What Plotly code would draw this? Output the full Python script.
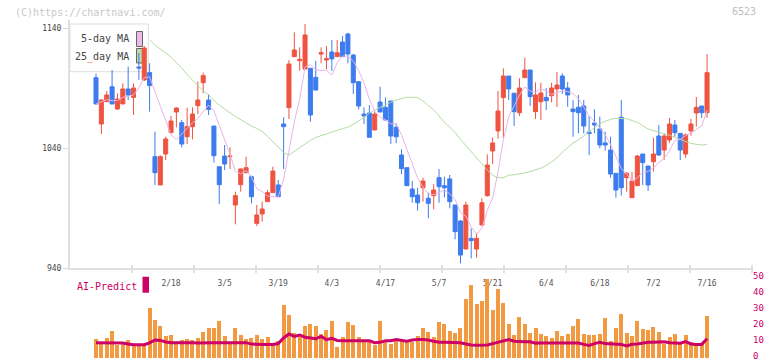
import plotly.graph_objects as go
import pandas as pd

# ---------------- data ----------------
date_labels = ["2/18", "3/5", "3/19", "4/3", "4/17", "5/7", "5/21", "6/4", "6/18", "7/2", "7/16"]
label_index = [14, 24, 34, 44, 54, 64, 74, 84, 94, 104, 114]

opens = [1098.6, 1060, 1078.6, 1091.1, 1072.5, 1076.7, 1089.2, 1082.2, 1107.5, 1096.7,
         1102.8, 1032.8, 1009.2, 1035, 1052.8, 1070, 1061.1, 1049.4, 1057.8, 1075.3,
         1094.4, 1080, 1058.3, 1024.4, 1033.3, 1032.8, 992.5, 1009.4, 1019.4, 1016.1,
         977.2, 985, 995.3, 1002.8, 1009.2, 1060, 1073.6, 1116.1, 1112.8, 1105.8,
         1106.4, 1098.9, 1118.3, 1113.3, 1120, 1116.1, 1128.3, 1135, 1117.5, 1095.3,
         1068.3, 1069.2, 1055, 1078.3, 1073.9, 1079.2, 1057.2, 1034.2, 1023.6, 1005.8,
         1000.8, 1006.9, 998.1, 1000.3, 1015.3, 1008.6, 1014.2, 992.5, 979.2, 955.8,
         964.7, 955.8, 975.8, 1000.3, 1037.5, 1054.2, 1082, 1100, 1085.6, 1069.4,
         1098.6, 1105, 1070.3, 1078.6, 1082.2, 1083.6, 1089.2, 1100, 1090, 1072.5,
         1073.9, 1075, 1053.3, 1060.8, 1055.8, 1044.2, 1038.3, 1018.9, 1065.6, 1015.3,
         998.6, 1008.6, 1035, 1025, 1028.6, 1050, 1038.3, 1046.7, 1059.2, 1052.2,
         1035, 1054.2, 1069.2, 1075, 1069.4]
highs = [1102, 1080.6, 1087.5, 1105, 1085.6, 1093.9, 1107.8, 1093.9, 1119.2, 1125,
         1110.6, 1053.6, 1034, 1049.4, 1066.7, 1073.9, 1063.3, 1073.6, 1073.9, 1095.3,
         1102.8, 1085, 1058.3, 1025, 1042.5, 1040.6, 1003.6, 1023, 1032.8, 1017,
         992.5, 995.3, 1005, 1024.4, 1013.3, 1065.6, 1113.3, 1136.4, 1123.9, 1143.3,
         1106.4, 1112.5, 1123.9, 1125, 1130, 1130, 1133.3, 1136, 1118.3, 1095.3,
         1073.9, 1075.8, 1070.3, 1091.1, 1082.2, 1079.2, 1060.6, 1038.9, 1023.6, 1012.5,
         1006.9, 1015.3, 1002.8, 1010, 1022.5, 1016.1, 1017.5, 992.5, 980, 995.3,
         973, 968.9, 998.1, 1034.7, 1048.6, 1087.5, 1106.4, 1100, 1085.6, 1098.1,
         1115.3, 1105, 1094.7, 1094.4, 1090, 1094.4, 1103.3, 1102.2, 1095, 1080,
         1084.2, 1080, 1066.7, 1072.2, 1066.1, 1053.6, 1049.4, 1018.9, 1080, 1020,
         1020, 1034.2, 1035, 1025, 1048.6, 1059.2, 1052.2, 1065, 1063.3, 1052.2,
         1052.2, 1064.2, 1082.5, 1075, 1118.3]
lows = [1076.7, 1051.7, 1078.6, 1076.7, 1071.7, 1076.7, 1080, 1067.5, 1096.7, 1095.8,
        1070.3, 1009.2, 1009.2, 1030, 1052.2, 1057.2, 1040.6, 1043.3, 1047.2, 1068.3,
        1085.6, 1067.5, 1027.8, 993.3, 1021.7, 1022.5, 976.4, 1003.6, 1019.4, 993.9,
        975, 978.6, 995.3, 1002.8, 999.4, 1022.5, 1064.2, 1116.1, 1104.4, 1105.8,
        1062, 1088.3, 1110.6, 1105.6, 1104.2, 1116.1, 1116.1, 1110.6, 1085, 1072.2,
        1060, 1048.9, 1055, 1070, 1063.3, 1043.3, 1043.9, 1018.3, 1008.6, 994.4,
        987.8, 995.3, 981.4, 988.9, 994.4, 998.9, 989.7, 963.9, 943.9, 955.8,
        948, 948.6, 975.8, 999.4, 1026.7, 1047.8, 1048.1, 1080, 1058.3, 1066.7,
        1098.6, 1075, 1064.2, 1063.3, 1071.7, 1078, 1074.2, 1085, 1074.4, 1049.4,
        1052.2, 1052.2, 1034.2, 1052.2, 1039.7, 1037.8, 1015.3, 998.6, 1000.3, 1003.6,
        998.6, 1008.6, 1009.2, 1004.2, 1020.3, 1033.3, 1030, 1044.4, 1049.4, 1030,
        1031.9, 1050.3, 1057.8, 1065, 1065]
closes = [1076.7, 1080, 1084.2, 1076.7, 1080.8, 1089.2, 1084.2, 1090, 1106.7, 1123.3,
          1092, 1019.4, 1032.8, 1047.5, 1062.5, 1073.3, 1043.3, 1057.8, 1068.3, 1080,
          1100.3, 1072.2, 1033.6, 1009.4, 1026.7, 1033.3, 1000.3, 1022.5, 1023.6, 999.4,
          984.2, 989.2, 1002.8, 1020.8, 999.4, 1057.8, 1110, 1121.7, 1113.9, 1134.2,
          1067.5, 1088.3, 1119.4, 1114.4, 1114.2, 1119.4, 1116.1, 1118.3, 1094.4, 1075,
          1066.7, 1048.9, 1068.3, 1070, 1063.3, 1050, 1049.4, 1022.8, 1008.6, 999.4,
          994.4, 1012.5, 993.9, 1005, 1007.8, 1006.9, 995.3, 970.3, 950.8, 992.5,
          962.8, 964.7, 994.4, 1025.8, 1044.2, 1070.8, 1100, 1089.2, 1070.3, 1090,
          1105, 1082.8, 1084.2, 1085.8, 1079.4, 1090, 1092.5, 1089.2, 1084.2, 1070.3,
          1069.4, 1058.3, 1052, 1059.2, 1042.5, 1042.5, 1018.3, 1005, 1006.9, 1018.9,
          1012.5, 1033.3, 1027.8, 1009.2, 1035, 1034.2, 1050, 1060, 1052.8, 1038.3,
          1050.8, 1060, 1073.9, 1069.4, 1102.8]

ma25_start = 10
ma25 = [1130.3, 1125.8, 1122.4, 1119.4, 1115.6, 1111.3, 1106.6, 1101.1, 1096.6, 1091.8,
        1087.6, 1084.4, 1079.4, 1075.7, 1072.3, 1069.3, 1066.3, 1063.6, 1060.8, 1058.3,
        1056.3, 1053.8, 1049.6, 1045.4, 1041.3, 1036.3, 1034.2, 1037.3, 1040.4, 1043.3,
        1046.3, 1048.8, 1050.4, 1051.8, 1053.4, 1055.1, 1056.2, 1057.4, 1059.8, 1062.3,
        1065.7, 1069.1, 1071.6, 1074.1, 1076.0, 1078.1, 1080.0, 1081.2, 1082.3, 1082.3,
        1082.1, 1079.2, 1075.4, 1071.7, 1066.7, 1061.3, 1057.5, 1053.0, 1047.1, 1042.1,
        1036.7, 1031.4, 1026.3, 1021.7, 1017.3, 1015.2, 1015.3, 1017.2, 1017.8, 1018.3,
        1019.2, 1020.3, 1021.7, 1023.3, 1025.3, 1028.3, 1031.7, 1036.4, 1040.4, 1044.2,
        1046.7, 1050.0, 1052.9, 1056.9, 1060.4, 1062.3, 1063.9, 1064.8, 1064.6, 1064.4,
        1062.9, 1061.3, 1058.6, 1055.8, 1054.4, 1053.1, 1052.2, 1050.6, 1048.8, 1047.2,
        1045.3, 1043.8, 1043.1, 1042.5, 1043.0]

volume = [11.7, 9.8, 12.3, 16.7, 7.9, 9.8, 11.0, 8, 8, 8, 31, 23.5, 19.8, 13.5, 14.2,
          9.8, 11, 11.7, 11, 12.3, 16, 18.5, 18.5, 22.9, 13.5, 9.8, 18.5, 14.2, 11.7,
          12.3, 14.2, 11.7, 12.9, 9, 10.4, 32.9, 26.7, 15.4, 12.9, 19.8, 21, 19.8, 14.8,
          17.3, 22.9, 6.7, 12.9, 22.3, 20.4, 12.9, 11, 9.8, 7.9, 22.9, 11, 8.5, 11.7, 10.4,
          10, 9.8, 13.5, 18.5, 16, 12.9, 22.3, 21, 16.7, 15.4, 18.5, 36.7, 45.4, 33.5,
          35.4, 49.2, 29.8, 42.9, 34.2, 21, 14.2, 25.4, 21, 15.4, 18.5, 14.8, 13.5, 12.3, 16.7,
          13.5, 14.8, 19.8, 24.2, 14.8, 14.2, 14.2, 14.8, 24.8, 10.4, 18.5, 27.3, 15.4,
          13.5, 22.9, 17.9, 17.3, 19.2, 16, 8.5, 12.9, 14.8, 8.5, 14.2, 9.8, 8.5, 8.5, 26]

ai_predict = [9.6, 9.6, 9.6, 9.6, 9.6, 9.3, 8.8, 8.3, 8.3, 8.3, 9.5, 11.3, 11.0, 10.0, 9.5,
              9.6, 9.6, 9.5, 9.6, 9.4, 9.6, 9.6, 9.6, 9.6, 9.4, 9.6, 9.6, 9.5, 9.6,
              8.7, 8.5, 8.5, 8.5, 8.5,
              9.0, 12.5, 15.0, 13.5, 14.4, 13.0, 12.3, 12.0, 13.5, 11.5, 12.3, 11.0,
              10.8, 10.8, 10.8, 10.8, 10.8, 10.8,
              9.6, 9.8, 10.8, 10.8, 11.5, 10.8,
              10.5, 11.2, 11.6, 11.5, 11.3, 10.5, 9.8, 9.8, 9.8, 9.8, 9.5, 8.8, 8.1, 7.9,
              7.9, 8.1, 9.0, 9.8, 10.8, 11.5, 10.5, 10.2, 10.2, 10.2, 9.3, 9.4, 9.4, 9.6, 9.8,
              9.6, 9.4, 9.4, 9.4, 8.5, 7.9, 9.0, 9.8, 9.0, 8.75, 8.75, 8.5, 7.5, 8.6, 8.75,
              9.5, 9.8, 9.8, 10.0, 10.2, 9.5, 9.2, 9.2, 10.2, 8.8, 8.5, 8.5, 12.0]

# ---------------- geometry helpers (pixels -> paper) ----------------
W, H = 772, 361
ML, MR, MT, MB = 70, 20, 20, 3
PW, PH = W - ML - MR, H - MT - MB


def px(x):
    return (x - ML) / PW


def py(y):
    return (H - MB - y) / PH


idx = list(range(len(opens)))
X_FIRST, STEP = 96.0, 5.36
x_range = [(ML - X_FIRST) / STEP, (W - MR - X_FIRST) / STEP]

ma5 = pd.Series(closes).rolling(5, min_periods=1).mean().tolist()
ma25_x = list(range(ma25_start, ma25_start + len(ma25)))

RED = "#ef5440"
BLUE = "#3d7cee"
MAG = "#cc0066"
FONT = "DejaVu Sans Mono"

fig = go.Figure()

fig.add_trace(go.Scatter(x=ma25_x, y=ma25, mode="lines",
                         line=dict(color="#b4dca4", width=1), hoverinfo="skip", showlegend=False))
fig.add_trace(go.Scatter(x=idx, y=ma5, mode="lines",
                         line=dict(color="#e8b4ea", width=1), hoverinfo="skip", showlegend=False))
fig.add_trace(go.Candlestick(
    x=idx, open=opens, high=highs, low=lows, close=closes,
    increasing=dict(line=dict(color=RED, width=1), fillcolor=RED),
    decreasing=dict(line=dict(color=BLUE, width=1), fillcolor=BLUE),
    whiskerwidth=0, showlegend=False))

fig.add_trace(go.Bar(x=idx, y=volume, width=0.75, marker=dict(color="#f29a42", line=dict(width=0)),
                     xaxis="x2", yaxis="y2", showlegend=False))
fig.add_trace(go.Scatter(x=idx, y=ai_predict, mode="lines", line=dict(color=MAG, width=3),
                         xaxis="x2", yaxis="y2", showlegend=False))

shapes = []
# legend box
shapes.append(dict(type="rect", xref="paper", yref="paper", x0=px(70), x1=px(148.3),
                   y0=py(71.7), y1=py(24), line=dict(color="#dddddd", width=1),
                   fillcolor="white", layer="below"))
shapes.append(dict(type="rect", xref="paper", yref="paper", x0=px(136.5), x1=px(142.5),
                   y0=py(46.5), y1=py(31.5), line=dict(color="#666666", width=1),
                   fillcolor="#ebb9ea", layer="below"))
shapes.append(dict(type="rect", xref="paper", yref="paper", x0=px(136.5), x1=px(142.5),
                   y0=py(63), y1=py(48.5), line=dict(color="#666666", width=1),
                   fillcolor="#bcdcaa", layer="below"))
# separator ticks on the date axis
for k in range(1, 12):
    shapes.append(dict(type="line", xref="paper", yref="paper", x0=k / 11, x1=k / 11,
                       y0=py(273), y1=py(265), line=dict(color="#e0e0e0", width=2)))
# AI-Predict marker
shapes.append(dict(type="rect", xref="paper", yref="paper", x0=px(142.5), x1=px(149),
                   y0=py(292.7), y1=py(276.7), line=dict(width=0), fillcolor=MAG))

annotations = [
    dict(text="(C)https://chartnavi.com/", xref="paper", yref="paper", x=px(13), y=py(12.5),
         xanchor="left", yanchor="middle", showarrow=False, font=dict(family=FONT, size=10, color="#c8c8c8")),
    dict(text="6523", xref="paper", yref="paper", x=px(758), y=py(11.5),
         xanchor="right", yanchor="middle", showarrow=False, font=dict(family=FONT, size=10, color="#c0c0c0")),
    dict(text="5-day MA", xref="paper", yref="paper", x=px(131), y=py(39),
         xanchor="right", yanchor="middle", showarrow=False, font=dict(family=FONT, size=10, color="#444444")),
    dict(text="25<span style='color:#e8402a'>_</span>day MA", xref="paper", yref="paper", x=px(131), y=py(57),
         xanchor="right", yanchor="middle", showarrow=False, font=dict(family=FONT, size=10, color="#444444")),
    dict(text="AI-Predict", xref="paper", yref="paper", x=px(75), y=py(286),
         xanchor="left", yanchor="middle", showarrow=False, font=dict(family=FONT, size=10, color=MAG)),
]

fig.update_layout(
    width=W, height=H, margin=dict(l=ML, r=MR, t=MT, b=MB, autoexpand=False),
    paper_bgcolor="white", plot_bgcolor="white",
    boxgap=0.25, boxgroupgap=0,
    showlegend=False, bargap=0,
    xaxis=dict(domain=[0, 1], range=x_range, anchor="y", automargin=False,
               tickmode="array", tickvals=label_index, ticktext=date_labels,
               ticks="outside", ticklen=6, tickcolor="rgba(0,0,0,0)",
               tickfont=dict(family=FONT, size=8, color="#555555"),
               showline=True, linecolor="#e0e0e0", linewidth=2,
               showgrid=False, zeroline=False, rangeslider=dict(visible=False), fixedrange=True),
    yaxis=dict(domain=[py(268), 1], range=[940, 1140 + (28 - MT) / 1.2], anchor="x", automargin=False,
               tickmode="array", tickvals=[940, 1040, 1140], ticktext=["940", "1040", "1140"],
               ticks="outside", ticklen=5, tickcolor="#d8d8d8",
               tickfont=dict(family=FONT, size=8, color="#444444"),
               showline=True, linecolor="#e0e0e0", linewidth=2,
               showgrid=False, zeroline=False),
    xaxis2=dict(domain=[0, 1], range=x_range, anchor="y2", matches="x", automargin=False,
                showticklabels=False, showline=False, showgrid=False, zeroline=False, ticks=""),
    yaxis2=dict(domain=[0, py(272)], range=[0, (H - MB - 272) / 1.6], anchor="x2", side="right",
                automargin=False, ticklabeloverflow="allow", ticklabelshift=-2,
                tickmode="array", tickvals=[0, 10, 20, 30, 40, 50],
                tickfont=dict(family=FONT, size=9, color=MAG), ticks="",
                showline=False, showgrid=False, zeroline=False),
    shapes=shapes, annotations=annotations,
)

fig.write_html("out.html")
